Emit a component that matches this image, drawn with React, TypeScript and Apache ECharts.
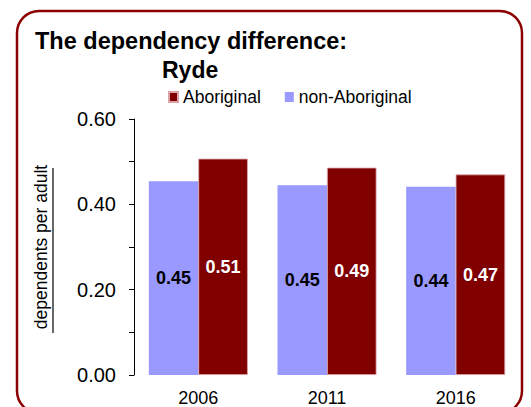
import React, { useEffect, useRef } from "react";
import * as echarts from "echarts";

const categories = ["2006", "2011", "2016"];
const nonAboriginal = [0.454, 0.445, 0.441];
const aboriginal = [0.507, 0.486, 0.47];
const nonAboriginalLabels = ["0.45", "0.45", "0.44"];
const aboriginalLabels = ["0.51", "0.49", "0.47"];

const FONT = "'Liberation Sans', Arial, sans-serif";

export default function App() {
  const ref = useRef<HTMLDivElement>(null);
  useEffect(() => {
    if (!ref.current) return;
    const chart = echarts.init(ref.current, undefined, { renderer: "svg" });
    chart.setOption({
      animation: false,
      backgroundColor: "#fff",
      title: [
        {
          text: "The dependency difference:",
          left: 35,
          top: 29,
          padding: 0,
          textStyle: { fontFamily: FONT, fontSize: 23.5, fontWeight: "bold", color: "#000" },
        },
        {
          text: "Ryde",
          left: 162,
          top: 58,
          padding: 0,
          textStyle: { fontFamily: FONT, fontSize: 23, fontWeight: "bold", color: "#000" },
        },
      ],
      legend: {
        data: ["Aboriginal", "non-Aboriginal"],
        left: 168,
        top: 88,
        padding: 0,
        itemWidth: 9,
        itemHeight: 10,
        itemGap: 24,
        icon: "rect",
        textStyle: { fontFamily: FONT, fontSize: 17.5, color: "#000" },
      },
      grid: { left: 134, right: 11, top: 119, bottom: 29, containLabel: false },
      xAxis: {
        type: "category",
        data: categories,
        axisLine: { show: false },
        axisTick: { show: false },
        axisLabel: { fontFamily: FONT, fontSize: 18, color: "#000", margin: 14 },
      },
      yAxis: {
        type: "value",
        min: 0,
        max: 0.6,
        interval: 0.1,
        name: "dependents per adult",
        nameLocation: "middle",
        nameRotate: 90,
        nameGap: 84,
        nameTextStyle: { fontFamily: FONT, fontSize: 17.5, color: "#000" },
        axisLine: { show: true, lineStyle: { color: "#000", width: 1 } },
        axisTick: { show: true, inside: false, length: 5, lineStyle: { color: "#000" } },
        splitLine: { show: false },
        axisLabel: {
          fontFamily: FONT,
          fontSize: 20,
          color: "#000",
          margin: 18,
          formatter: (v: number) => (Math.round(v * 10) % 2 === 0 ? v.toFixed(2) : ""),
        },
      },
      graphic: [
        {
          type: "rect",
          shape: { x: 17, y: 11, width: 505, height: 402, r: 22 },
          style: { fill: "none", stroke: "#8b0000", lineWidth: 2.5 },
          silent: true,
        },
        {
          type: "line",
          shape: { x1: 53, y1: 168, x2: 53, y2: 333 },
          style: { stroke: "#000", lineWidth: 1.2 },
          silent: true,
        },
      ],
      series: [
        {
          name: "non-Aboriginal",
          type: "bar",
          data: nonAboriginal,
          barWidth: 49.5,
          barGap: "0%",
          itemStyle: { color: "#9999ff" },
          label: {
            show: true,
            position: "inside",
            fontFamily: FONT,
            fontSize: 18,
            fontWeight: "bold",
            color: "#000",
            formatter: (p: any) => nonAboriginalLabels[p.dataIndex],
          },
        },
        {
          name: "Aboriginal",
          type: "bar",
          data: aboriginal,
          barWidth: 49.5,
          barGap: "0%",
          itemStyle: { color: "#800000", borderColor: "#d9a3a8", borderWidth: 0.8 },
          label: {
            show: true,
            position: "inside",
            fontFamily: FONT,
            fontSize: 18,
            fontWeight: "bold",
            color: "#fff",
            formatter: (p: any) => aboriginalLabels[p.dataIndex],
          },
        },
      ],
    });
    return () => chart.dispose();
  }, []);
  return (
    <div
      ref={ref}
      style={{ position: "absolute", left: 0, top: 0, width: 531, height: 407, background: "#fff" }}
    />
  );
}
